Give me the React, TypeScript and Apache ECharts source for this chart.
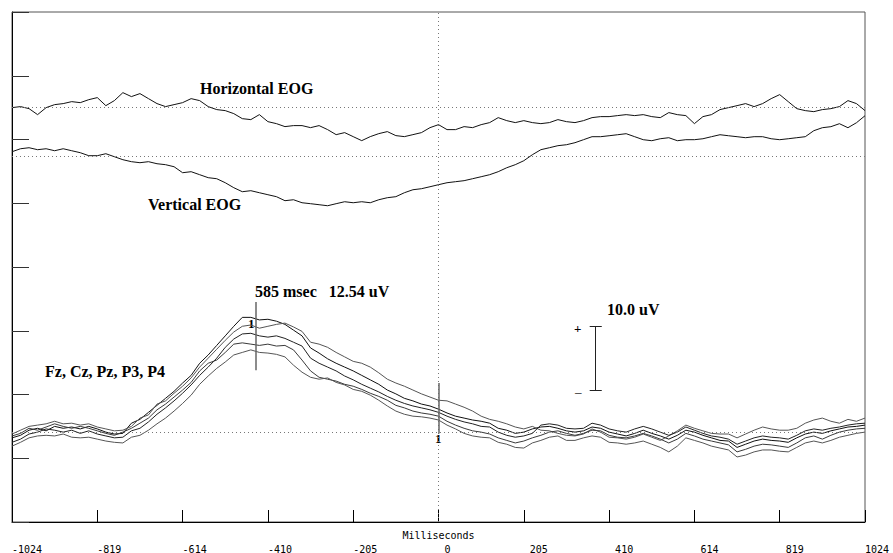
import React, { useEffect, useRef } from "react";
import * as echarts from "echarts";

// Epoch (ms) and x ticks
const EPOCH_START = -1024;
const EPOCH_END = 1024;
const TICK_STEP = 204.8; // 2048 ms / 10
const SAMPLE_MS = 20.48; // one reading every 20.48 ms (101 readings)

// Channel baselines on the stacked display (uV units of the vertical scale)
const H_OFF = 65;
const V_OFF = 57.3;
const ERP_OFF = 14.1;

// Horizontal EOG (uV from its baseline)
const HEOG = [0,0.16,-0.16,-1.1,0,0.47,0.63,0.94,0.78,1.25,1.57,0.31,1.1,2.35,1.73,2.2,1.41,0.63,0.16,0.47,0.78,1.41,1.1,0.16,-0.31,-0.47,-0.94,-1.73,-1.88,-1.1,-2.2,-2.51,-2.98,-2.82,-2.82,-3.14,-2.82,-3.45,-4.24,-3.92,-4.55,-5.18,-4.55,-4.08,-3.76,-4.39,-4.55,-4.24,-3.92,-3.14,-2.67,-3.45,-3.45,-2.98,-3.14,-2.67,-2.35,-1.57,-2.04,-2.35,-2.04,-2.35,-2.51,-2.35,-1.88,-2.2,-2.35,-2.04,-1.57,-1.41,-1.41,-1.25,-1.1,-1.25,-1.1,-1.41,-1.57,-0.78,-1.1,-1.25,-2.51,-1.41,-1.1,-0.31,0,0.31,0.63,0.16,0.63,1.41,2.04,0.94,-0.16,-0.47,-0.63,-0.31,-0.16,0.16,1.1,0.63,-0.47];

// Vertical EOG
const VEOG = [0.78,1.25,1.41,1.1,1.25,0.94,1.25,0.94,0.63,0.16,0.16,0.47,0,-0.47,-0.78,-0.94,-0.78,-1.1,-1.25,-1.57,-2.51,-2.35,-2.82,-3.29,-3.45,-4.08,-4.86,-5.49,-5.33,-5.65,-5.96,-6.27,-6.9,-6.75,-7.22,-7.37,-7.53,-7.69,-7.37,-7.06,-7.22,-7.06,-7.22,-6.75,-6.43,-6.27,-5.65,-5.18,-5.02,-4.71,-4.39,-4.08,-3.92,-3.76,-3.45,-3.14,-2.82,-2.35,-1.73,-1.25,-0.63,0.31,1.1,1.41,1.73,1.88,2.2,2.67,3.14,3.14,3.29,3.45,3.61,3.14,2.67,2.51,2.82,2.98,2.51,2.67,2.67,2.82,3.14,3.45,3.29,3.14,2.98,3.14,3.14,2.82,2.67,2.82,2.98,3.14,4.08,4.55,4.71,5.18,4.55,5.33,6.43];

// ERP channels (uV)
const FZ = [-0.9,-0.5,0.3,0.6,0.2,0.9,0.6,0.8,0.5,0.9,0.5,0,-0.3,-0.2,1.4,2.0,3.1,4.2,5.3,6.4,7.7,8.9,10.8,12.1,13.6,15.1,16.6,18.0,18.0,17.6,17.7,17.4,16.9,16.0,15.1,13.2,12.4,11.5,10.8,10.2,9.6,8.9,8.2,7.5,6.6,6.0,5.3,4.9,4.4,4.1,3.6,3.0,2.5,2.2,1.9,1.7,1.4,0.6,0.3,-0.2,0,0.5,0.8,0.9,0.6,0.2,0,0.2,0.8,0.6,0,-0.3,-0.6,-0.2,0.3,-0.2,-0.6,-1.1,-0.5,0.3,0,-0.5,-0.9,-1.3,-1.4,-2.4,-1.9,-1.4,-1.1,-1.3,-1.4,-1.6,-0.9,-0.3,0,-0.2,0.2,0.5,0.8,0.9,1.1];
const CZ = [-0.3,0.3,0.9,1.1,1.3,1.7,1.3,1.4,1.1,1.3,0.8,0.5,0.2,0.3,0.9,2.2,2.7,4.4,4.9,6.1,7.2,8.5,10.2,11.6,13.0,14.4,15.7,16.6,16.8,16.3,16.6,16.9,17.1,16.5,15.8,14.1,13.8,13.3,12.5,11.8,11.1,10.8,10.2,9.3,8.3,7.7,7.2,6.6,6.0,5.5,5.0,4.9,4.4,3.9,3.3,2.5,2.0,1.7,1.3,0.8,0.5,0.9,0.3,0.2,-0.2,-0.5,-0.6,-0.3,0.5,0,-0.8,-0.9,-1.1,-0.8,-0.3,-0.8,-1.3,-0.6,0.2,1.1,0.6,0.2,-0.2,-0.3,-0.3,-0.9,-0.3,0.3,0.8,0.5,0.3,0.3,0.6,1.4,1.9,2.2,1.7,1.4,2.0,1.7,2.2];
const PZ = [-1.6,-1.1,-0.3,0,0.5,0.3,0,0.3,-0.2,0.2,-0.3,-0.6,-0.9,-0.8,0.2,0.6,1.6,2.8,3.8,4.9,6.1,7.4,8.9,10.2,11.6,13.3,14.6,15.4,15.5,15.1,14.9,15.1,14.7,14.1,13.5,11.6,10.8,10.2,9.6,8.8,8.2,7.5,6.9,6.3,5.6,5.0,4.5,4.1,3.8,3.5,3.1,2.5,2.0,1.6,1.3,0.9,0.8,0,-0.5,-0.8,-0.6,-0.2,1.1,1.3,1.1,0.6,0.5,0.6,1.4,1.1,0.5,0.2,0,0.5,0.9,0.5,0,-0.5,0,0.8,0.3,-0.2,-0.6,-0.8,-1.1,-1.9,-1.4,-0.9,-0.6,-0.8,-0.9,-1.1,-0.5,0.2,0.5,0.3,0.6,0.8,1.1,1.3,1.4];
const P3 = [-0.6,-0.2,0.6,0.3,0.8,1.3,0.9,0.6,0.9,0.6,0.2,-0.2,-0.5,0,0.6,1.4,2.2,3.5,4.4,5.5,6.6,7.8,9.6,10.8,11.3,12.5,13.8,14.0,13.8,13.6,13.8,13.5,13.6,12.9,11.3,9.6,8.6,8.3,8.0,7.5,7.2,6.7,6.1,5.6,5.0,4.2,3.8,3.3,3.0,2.8,2.5,1.7,1.1,0.6,0.2,0,-0.3,-0.9,-1.3,-1.7,-1.4,-0.9,-0.5,0,0.2,-0.2,-0.5,-0.2,0.3,0.2,-0.5,-0.8,-0.9,-0.6,-0.2,-0.6,-1.1,-1.7,-1.1,-0.2,-0.6,-1.1,-1.4,-1.7,-2.0,-3.1,-2.7,-2.2,-1.9,-2.0,-2.2,-2.4,-1.7,-0.9,-0.6,-1.1,-0.5,0,0.3,0.5,0.6];
const P4 = [-2.2,-1.6,-0.9,-0.6,-0.5,-0.6,-0.3,-0.8,-0.9,-0.8,-1.1,-1.4,-1.6,-1.7,-0.8,-0.5,0.3,1.3,2.2,3.3,4.5,5.8,7.5,8.8,10.0,11.0,12.1,12.5,12.9,12.5,12.4,12.2,11.8,10.5,9.4,8.6,8.3,8.5,7.8,7.4,6.7,6.4,5.8,5.0,4.1,3.3,2.8,2.5,2.4,2.2,1.9,1.1,0.5,-0.2,-0.6,-0.8,-0.9,-1.6,-1.9,-2.4,-2.5,-1.7,-1.3,-0.8,-0.6,-1.3,-1.3,-0.9,-0.6,-0.8,-1.6,-1.7,-1.9,-1.7,-1.4,-1.9,-2.4,-3.1,-2.2,-0.9,-1.3,-1.7,-2.2,-2.5,-2.8,-3.9,-3.6,-3.1,-2.8,-2.8,-3.0,-3.1,-2.4,-1.7,-1.4,-1.7,-1.3,-0.8,-0.5,-0.2,0];

const ERP_CHANNELS = [
  { name: "Fz", values: FZ, color: "#111" },
  { name: "Cz", values: CZ, color: "#555" },
  { name: "Pz", values: PZ, color: "#222" },
  { name: "P3", values: P3, color: "#3a3a3a" },
  { name: "P4", values: P4, color: "#555" },
];

// Peak cursor: 585 ms after epoch start
const PEAK_MS = EPOCH_START + 585;
const PEAK_RANGE = [9.7, 20.4];
const ZERO_RANGE = [-0.2, 7.7];
// 10 uV calibration bar
const CAL_MS = 377;
const CAL_CAP = [363, 392];
const CAL_LOW = 6.6;
const CAL_UV = 10;

const times = HEOG.map((_, i) => EPOCH_START + i * SAMPLE_MS);

const SERIF = '"Liberation Serif", "Times New Roman", serif';
const MONO = '"DejaVu Sans Mono", monospace';

function toSeries(vals: number[], off: number) {
  return vals.map((v, i) => [times[i], +(off + v).toFixed(3)]);
}

export default function App() {
  const ref = useRef<HTMLDivElement>(null);
  useEffect(() => {
    if (!ref.current) return;
    const chart = echarts.init(ref.current, undefined, { renderer: "svg" });
    const dotted = { color: "#777", width: 1, type: [1, 3] as any };
    const baseLine = (color: string) => ({
      type: "line",
      showSymbol: false,
      symbol: "none",
      silent: true,
      lineStyle: { color, width: 1 },
    });
    const series: any[] = [
      {
        ...baseLine("#111"),
        name: "Horizontal EOG",
        data: toSeries(HEOG, H_OFF),
        z: 3,
        markLine: {
          silent: true,
          symbol: "none",
          label: { show: false },
          lineStyle: dotted,
          data: [{ yAxis: H_OFF }, { yAxis: V_OFF }, { yAxis: ERP_OFF }, { xAxis: 0 }],
        },
      },
      { ...baseLine("#111"), name: "Vertical EOG", data: toSeries(VEOG, V_OFF), z: 3 },
      ...ERP_CHANNELS.map((c) => ({
        ...baseLine(c.color),
        name: c.name,
        data: toSeries(c.values, ERP_OFF),
        z: 3,
      })),
      {
        type: "line",
        name: "markers",
        data: [],
        markLine: {
          silent: true,
          symbol: "none",
          label: { show: false },
          lineStyle: { color: "#666", width: 1.5, type: "solid" },
          data: [
            [{ coord: [PEAK_MS, ERP_OFF + PEAK_RANGE[0]] }, { coord: [PEAK_MS, ERP_OFF + PEAK_RANGE[1]] }],
            [{ coord: [0, ERP_OFF + ZERO_RANGE[0]] }, { coord: [0, ERP_OFF + ZERO_RANGE[1]] }],
          ],
        },
      },
      {
        type: "line",
        name: "calibration",
        data: [],
        markLine: {
          silent: true,
          symbol: "none",
          label: { show: false },
          lineStyle: { color: "#222", width: 1, type: "solid" },
          data: [
            [{ coord: [CAL_MS, ERP_OFF + CAL_LOW] }, { coord: [CAL_MS, ERP_OFF + CAL_LOW + CAL_UV] }],
            [{ coord: [CAL_CAP[0], ERP_OFF + CAL_LOW] }, { coord: [CAL_CAP[1], ERP_OFF + CAL_LOW] }],
            [{ coord: [CAL_CAP[0], ERP_OFF + CAL_LOW + CAL_UV] }, { coord: [CAL_CAP[1], ERP_OFF + CAL_LOW + CAL_UV] }],
          ],
        },
      },
    ];
    const txt = (text: string, x: number, y: number, font: string) => ({
      type: "text",
      x,
      y,
      silent: true,
      style: { text, fill: "#000", font, align: "left", verticalAlign: "middle" },
    });
    const bold16 = `bold 16px ${SERIF}`;
    chart.setOption({
      animation: false,
      backgroundColor: "#fff",
      grid: {
        left: 12,
        right: 28,
        top: 12,
        bottom: 31,
        show: true,
        borderColor: "#555",
        borderWidth: 1,
        containLabel: false,
        outerBoundsMode: "none",
      },
      xAxis: {
        type: "value",
        min: EPOCH_START,
        max: EPOCH_END,
        interval: TICK_STEP,
        name: "Milliseconds",
        nameLocation: "middle",
        nameGap: 8,
        nameMoveOverlap: false,
        nameTextStyle: { fontFamily: MONO, fontSize: 10, color: "#000" },
        axisLine: { show: true, onZero: false, lineStyle: { color: "#000", width: 1 } },
        axisTick: { show: true, inside: true, length: 12, lineStyle: { color: "#000" } },
        axisLabel: {
          show: true,
          fontFamily: MONO,
          fontSize: 10,
          color: "#000",
          align: "left",
          margin: 22,
          showMinLabel: true,
          showMaxLabel: true,
          hideOverlap: false,
          formatter: (v: number) => {
            const r = Math.round(v);
            if (r < 0 || r >= EPOCH_END) return String(r);
            return "\u00a0" + r;
          },
        },
        splitLine: { show: false },
      },
      yAxis: {
        type: "value",
        min: 0,
        max: 80,
        interval: 10,
        axisLine: { show: true, onZero: false, lineStyle: { color: "#000", width: 1 } },
        axisTick: { show: true, inside: true, length: 17, lineStyle: { color: "#333" } },
        axisLabel: { show: false },
        splitLine: { show: false },
      },
      series,
      graphic: [
        txt("Horizontal EOG", 200, 88, bold16),
        txt("Vertical EOG", 148, 204, bold16),
        txt("585 msec   12.54 uV", 255, 291, bold16),
        txt("Fz, Cz, Pz, P3, P4", 45, 371, bold16),
        txt("10.0 uV", 607, 309, bold16),
        txt("+", 574, 328, `bold 13px ${SERIF}`),
        txt("\u2013", 575, 391, `13px ${SERIF}`),
        txt("1", 248, 323, `bold 13px ${SERIF}`),
        txt("1", 435, 438, `bold 13px ${SERIF}`),
      ],
    });
    return () => chart.dispose();
  }, []);
  return (
    <div
      ref={ref}
      style={{ position: "fixed", left: 0, top: 0, width: 893, height: 553, background: "#fff" }}
    />
  );
}
